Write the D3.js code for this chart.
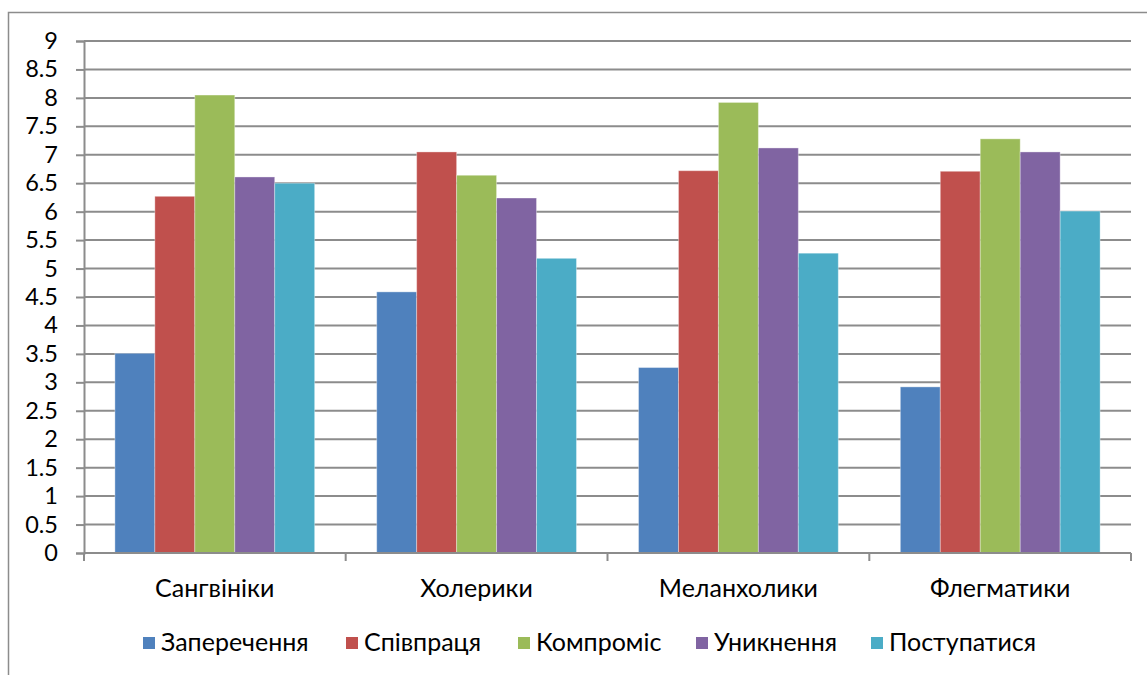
<!DOCTYPE html>
<html><head><meta charset="utf-8">
<script src="https://cdn.jsdelivr.net/npm/d3@7"></script>
<style>body{margin:0;background:#fff}svg{display:block}text{font-family:Lato,"Open Sans",sans-serif;fill:#000}</style>
</head><body><svg id="c" width="1147" height="675"></svg>
<script>
const categories = ["Сангвініки","Холерики","Меланхолики","Флегматики"];
const seriesNames = ["Заперечення","Співпраця","Компроміс","Уникнення","Поступатися"];
const seriesColors = ["#4F81BD","#C0504D","#9BBB59","#8064A2","#4BACC6"];
const zaperechennia = [3.51,4.59,3.26,2.92];
const spivpratsia  = [6.27,7.05,6.72,6.71];
const kompromis    = [8.05,6.64,7.92,7.28];
const unyknennia   = [6.61,6.24,7.12,7.05];
const postupatysia = [6.50,5.18,5.27,6.01];
const yTicks = [0,0.5,1,1.5,2,2.5,3,3.5,4,4.5,5,5.5,6,6.5,7,7.5,8,8.5,9];
const seriesValues = [zaperechennia,spivpratsia,kompromis,unyknennia,postupatysia];

const svg = d3.select("#c");
const L=84,R=1131,T=41,B=553;
svg.append("rect").attr("x",8.5).attr("y",12.5).attr("width",1200).attr("height",800)
  .attr("fill","none").attr("stroke","#8c8c8c").attr("stroke-width",1.5);

const y = d3.scaleLinear().domain([0,9]).range([B,T]);
const x0 = d3.scaleBand().domain(categories).range([L,R]).paddingInner(0.237).paddingOuter(0.118);
const x1 = d3.scaleBand().domain(seriesNames).range([0,x0.bandwidth()]);

// gridlines
svg.append("g").selectAll("line").data(yTicks.filter(d=>d>0)).join("line")
  .attr("x1",L).attr("x2",R).attr("y1",d=>y(d)).attr("y2",d=>y(d))
  .attr("stroke","#8c8c8c").attr("stroke-width",2);

// bars
const g = svg.append("g");
categories.forEach((c,ci)=>{
  seriesNames.forEach((s,si)=>{
    const v = seriesValues[si][ci];
    g.append("rect").attr("x",x0(c)+x1(s)).attr("y",y(v)).attr("width",x1.bandwidth())
      .attr("height",B-y(v)).attr("fill",seriesColors[si])
      .attr("stroke","rgba(255,255,255,0.35)").attr("stroke-width",1);
  });
});

// y axis
const ya = svg.append("g").attr("transform",`translate(${L},0)`)
  .call(d3.axisLeft(y).tickValues(yTicks).tickSize(8).tickPadding(18).tickFormat(d=>String(d)));
ya.select(".domain").attr("stroke","#8c8c8c").attr("stroke-width",2);
ya.selectAll(".tick line").attr("stroke","#8c8c8c").attr("stroke-width",2);
ya.selectAll("text").style("font-size","23.5px").style("font-family","Lato,sans-serif").attr("fill","#000");

// x axis
const xa = svg.append("g").attr("transform",`translate(0,${B})`);
xa.append("line").attr("x1",L).attr("x2",R).attr("y1",0).attr("y2",0).attr("stroke","#8c8c8c").attr("stroke-width",2);
const bounds = [L].concat(categories.map(c=>x0(c)+x0.bandwidth()+x0.step()*x0.paddingInner()/2));
bounds[bounds.length-1]=R;
xa.selectAll("line.t").data(bounds).join("line").attr("class","t")
  .attr("x1",d=>d).attr("x2",d=>d).attr("y1",0).attr("y2",8).attr("stroke","#8c8c8c").attr("stroke-width",2);
xa.selectAll("text").data(categories).join("text")
  .attr("x",d=>x0(d)+x0.bandwidth()/2).attr("y",44).attr("text-anchor","middle")
  .style("font-size","25px").text(d=>d);

// legend
const legX = [143,346,518,696,871];
const lg = svg.append("g");
seriesNames.forEach((s,i)=>{
  lg.append("rect").attr("x",legX[i]).attr("y",637).attr("width",12).attr("height",12).attr("fill",seriesColors[i]);
  lg.append("text").attr("x",legX[i]+18).attr("y",651).style("font-size","25px").text(s);
});
</script></body></html>
